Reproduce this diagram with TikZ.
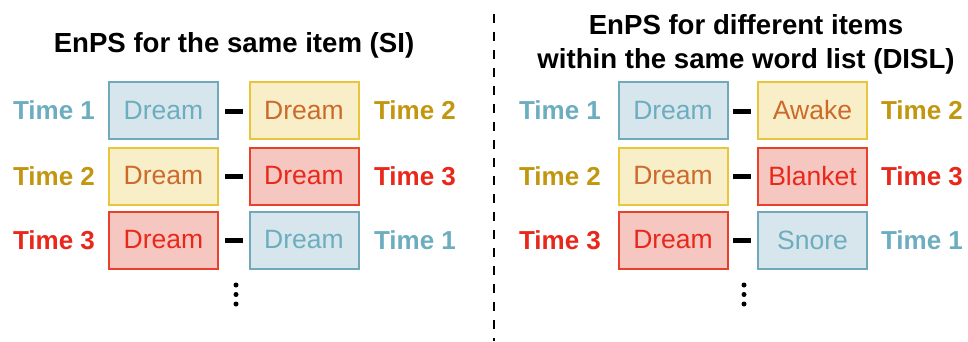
\documentclass[tikz,border=0pt]{standalone}
\usepackage{fontspec}
\setmainfont{Liberation Sans}
\definecolor{bB}{HTML}{6FA9BA}
\definecolor{bF}{HTML}{D7E6EC}
\definecolor{bT}{HTML}{6CADC0}
\definecolor{yB}{HTML}{E8C53A}
\definecolor{yF}{HTML}{F8EFC9}
\definecolor{yT}{HTML}{CC6A2C}
\definecolor{yL}{HTML}{C2960F}
\definecolor{rB}{HTML}{E8402A}
\definecolor{rF}{HTML}{F6C6C0}
\definecolor{rT}{HTML}{E8281A}
\begin{document}
\begin{tikzpicture}[x=1pt,y=-1pt,
  wbox/.style={draw,line width=2pt,minimum width=109pt,minimum height=57pt,inner sep=0pt,font=\fontsize{26.5}{28}\selectfont},
  bbox/.style={wbox,draw=bB,fill=bF,text=bT},
  ybox/.style={wbox,draw=yB,fill=yF,text=yT},
  rbox/.style={wbox,draw=rB,fill=rF,text=rT},
  tlab/.style={font=\bfseries\fontsize{26}{28}\selectfont,inner sep=0pt},
  tb/.style={tlab,text=bT},
  ty/.style={tlab,text=yL},
  tr/.style={tlab,text=rT},
  ttl/.style={font=\bfseries\fontsize{27.6}{34}\selectfont,align=center,inner sep=0pt},
  minus/.style={fill=black,minimum width=18pt,minimum height=5pt,inner sep=0pt},
  vdot/.style={circle,fill=black,minimum size=5pt,inner sep=0pt}]
\useasboundingbox (0,0) rectangle (968,341);
% titles
\node[ttl] (t1) at (234,45) {EnPS for the same item (SI)};
\node[ttl] (t2) at (746,44) {EnPS for different items\\within the same word list (DISL)};
% divider
\coordinate (d1) at (494,14);
\coordinate (d2) at (494,341);
\draw[line width=2pt,dash pattern=on 9pt off 9pt] (d1) -- (d2);
% left panel
\node[bbox] (a11) at (163.5,110.5) {Dream};
\node[ybox] (a12) at (304,110.5) {Dream};
\node[ybox] (a21) at (163.5,176) {Dream};
\node[rbox] (a22) at (304,176) {Dream};
\node[rbox] (a31) at (163.5,240) {Dream};
\node[bbox] (a32) at (304,240) {Dream};
\node[minus] (am1) at (234,111) {};
\node[minus] (am2) at (234,176) {};
\node[minus] (am3) at (234,240) {};
\node[tb] (al1) at (54,110.5) {Time 1};
\node[ty] (al2) at (54,176) {Time 2};
\node[tr] (al3) at (54,240) {Time 3};
\node[ty] (ar1) at (415,110.5) {Time 2};
\node[tr] (ar2) at (415,176) {Time 3};
\node[tb] (ar3) at (415,240) {Time 1};
\node[vdot] (ad1) at (236,285) {};
\node[vdot] (ad2) at (236,294.5) {};
\node[vdot] (ad3) at (236,304) {};
% right panel
\node[bbox] (b11) at (673,110.5) {Dream};
\node[ybox] (b12) at (812.5,110.5) {Awake};
\node[ybox] (b21) at (673,176) {Dream};
\node[rbox] (b22) at (812.5,176) {Blanket};
\node[rbox] (b31) at (673,240) {Dream};
\node[bbox] (b32) at (812.5,240) {Snore};
\node[minus] (bm1) at (742,111) {};
\node[minus] (bm2) at (742,176) {};
\node[minus] (bm3) at (742,240) {};
\node[tb] (bl1) at (560,110.5) {Time 1};
\node[ty] (bl2) at (560,176) {Time 2};
\node[tr] (bl3) at (560,240) {Time 3};
\node[ty] (br1) at (922,110.5) {Time 2};
\node[tr] (br2) at (922,176) {Time 3};
\node[tb] (br3) at (922,240) {Time 1};
\node[vdot] (bd1) at (744,285) {};
\node[vdot] (bd2) at (744,294.5) {};
\node[vdot] (bd3) at (744,304) {};
\end{tikzpicture}
\end{document}
